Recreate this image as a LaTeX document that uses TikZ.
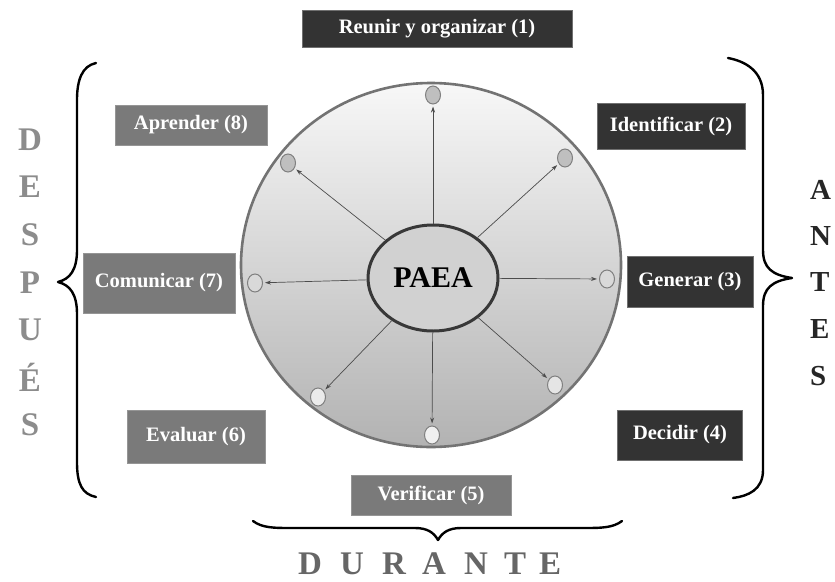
\documentclass[tikz,border=0pt]{standalone}
\usepackage{fontspec}
\setmainfont{Liberation Serif}
\usetikzlibrary{arrows.meta,shapes.geometric}
\definecolor{darkbox}{HTML}{333333}
\definecolor{graybox}{HTML}{7A7A7A}
\begin{document}
\begin{tikzpicture}[x=1pt,y=-1pt,
  boxdark/.style={rectangle,fill=darkbox,draw=darkbox!70,line width=0.6pt,text=white,inner sep=0pt,font=\bfseries\fontsize{20.5}{20.5}\selectfont},
  boxgray/.style={rectangle,fill=graybox,draw=graybox!80,line width=0.6pt,text=white,inner sep=0pt,font=\bfseries\fontsize{20.5}{20.5}\selectfont},
  dot/.style={ellipse,minimum width=15pt,minimum height=18pt,inner sep=0pt,draw=black!50,line width=1pt},
  arr/.style={-{Stealth[length=6pt,width=4pt]},draw=black!70,line width=0.7pt,shorten >=2pt},
  bracestyle/.style={line width=2.4pt,line cap=round,line join=round},
  letter/.style={inner sep=0pt,font=\bfseries\fontsize{33}{33}\selectfont}]
\useasboundingbox (0,0) rectangle (835,581);
\fill[white] (0,0) rectangle (835,581);
% big circle
\node[ellipse,minimum width=380pt,minimum height=364pt,top color=black!3,bottom color=black!30,draw=black!55,line width=2.6pt] (big) at (431,265) {};
% centre
\node[ellipse,minimum width=130pt,minimum height=106pt,fill=black!18,draw=black!78,line width=3pt,font=\bfseries\fontsize{30}{30}\selectfont,inner sep=0pt] (paea) at (433,278) {PAEA};
% small dots
\node[dot,fill=black!25] (n1) at (433,95) {};
\node[dot,fill=black!25] (n2) at (565,158) {};
\node[dot,fill=black!15] (n3) at (607,279) {};
\node[dot,fill=black!10] (n4) at (555,385) {};
\node[dot,fill=black!6] (n5) at (432,435) {};
\node[dot,fill=black!8] (n6) at (318,397) {};
\node[dot,fill=black!15] (n7) at (255,283) {};
\node[dot,fill=black!25] (n8) at (288,163) {};
\foreach \n in {n1,n2,n3,n4,n5,n6,n7,n8} \draw[arr] (paea) -- (\n);
% boxes
\node[boxdark,minimum width=270pt,minimum height=37pt] (b1) at (437,29) {Reunir y organizar (1)};
\node[boxdark,minimum width=148pt,minimum height=46pt] (b2) at (671,126) {Identificar (2)};
\node[boxdark,minimum width=126pt,minimum height=51pt] (b3) at (690,282) {Generar (3)};
\node[boxdark,minimum width=125pt,minimum height=50pt] (b4) at (680,435) {Decidir (4)};
\node[boxgray,minimum width=160pt,minimum height=40pt] (b5) at (431,495) {Verificar (5)};
\node[boxgray,minimum width=138pt,minimum height=53pt] (b6) at (196,437) {Evaluar (6)};
\node[boxgray,minimum width=152pt,minimum height=60pt] (b7) at (159,283) {Comunicar (7)};
\node[boxgray,minimum width=152pt,minimum height=40pt] (b8) at (191,125) {Aprender (8)};
% braces
\draw[bracestyle] (96,63) .. controls (82,66) and (77,80) .. (77,100) -- (77,250)
  .. controls (77,270) and (70,279) .. (58,282) .. controls (70,285) and (77,294) .. (77,314)
  -- (77,462) .. controls (77,484) and (82,494) .. (96,497);
\draw[bracestyle] (728,58) .. controls (744,61) and (763,70) .. (763,95) -- (763,250)
  .. controls (763,268) and (772,275) .. (792,278) .. controls (772,281) and (763,288) .. (763,306)
  -- (763,470) .. controls (763,490) and (748,496) .. (733,498);
\draw[bracestyle] (253,521) .. controls (262,528) and (275,528) .. (290,528) -- (415,528)
  .. controls (428,528) and (434,533) .. (438,540) .. controls (442,533) and (448,528) .. (461,528)
  -- (585,528) .. controls (600,528) and (613,528) .. (622,521);
% DESPUES
\foreach \l/\yy [count=\i] in {D/140,E/187,S/235,P/283,U/330,É/377,S/425}
  \node[letter,text=black!45] (d\i) at (30,\yy) {\l};
% ANTES
\foreach \l/\yy [count=\i] in {A/190,N/236,T/282,E/329,S/376}
  \node[letter,font=\bfseries\fontsize{29}{29}\selectfont,text=black!85,anchor=west] (a\i) at (810,\yy) {\l};
% DURANTE
\foreach \l/\xx [count=\i] in {D/310,U/352,R/394,A/434,N/476,T/515,E/550}
  \node[letter,font=\bfseries\fontsize{33}{33}\selectfont,text=black!60,anchor=north] (u\i) at (\xx,553) {\l};
\end{tikzpicture}
\end{document}
